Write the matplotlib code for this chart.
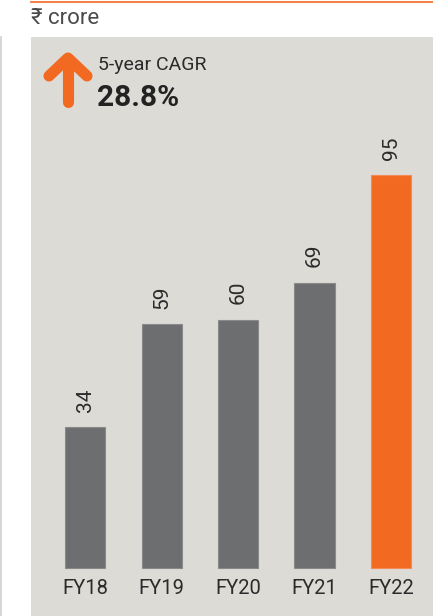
import matplotlib.pyplot as plt
from matplotlib.lines import Line2D

years = ['FY18', 'FY19', 'FY20', 'FY21', 'FY22']
values = [34, 59, 60, 69, 95]
unit = '₹ crore'
cagr_label = '5-year CAGR'
cagr_value = '28.8%'

plt.rcParams['font.family'] = ['Roboto', 'DejaVu Sans']

W, H = 433, 616
fig = plt.figure(figsize=(W / 100, H / 100), dpi=100)
fig.patch.set_facecolor('white')

panel = '#dcdbd6'
grey = '#6d6e70'
orange = '#f26a21'
txt = '#2b2b2b'

# bar panel, laid out so 1 unit ~ 4.14 px and bar centres ~76.5 px apart
ax = fig.add_axes([31 / W, 0, 402 / W, 579 / H])
ax.set_facecolor(panel)
x = list(range(len(years)))
colors = [grey] * (len(years) - 1) + [orange]
edges = ['#8a8a8a'] * (len(years) - 1) + ['#f48a55']
ax.bar(x, values, width=0.523, color=colors, edgecolor=edges, linewidth=0.8)
ax.set_xlim(-0.706, 4.549)
ax.set_ylim(-11.6, 128.35)
for i, v in enumerate(values):
    ax.annotate(str(v), (i, v), xytext=(0, 11), textcoords='offset points',
                rotation=90, ha='center', va='bottom', fontsize=15, color=txt)
    ax.annotate(years[i], (i, 0), xytext=(0, -8), textcoords='offset points',
                ha='center', va='top', fontsize=14.5, color=txt)
ax.set_xticks([])
ax.set_yticks([])
for s in ax.spines.values():
    s.set_visible(False)

# overlay in pixel coordinates for the header bits
ov = fig.add_axes([0, 0, 1, 1], facecolor='none')
ov.set_xlim(0, W)
ov.set_ylim(H, 0)
ov.axis('off')
ov.add_line(Line2D([31, W], [2, 2], color=orange, lw=1.2))
ov.add_line(Line2D([0.5, 0.5], [37, H], color='#cfcfcb', lw=1.2))
ov.text(31, 18, unit, fontsize=16, color='#4a4a4a', va='center', ha='left')

# up arrow
ov.add_line(Line2D([68, 68], [102, 62], color=orange, lw=8, solid_capstyle='round'))
ov.add_line(Line2D([49, 68, 87], [76, 58, 76], color=orange, lw=8,
                   solid_capstyle='round', solid_joinstyle='round'))

ov.text(98, 65, cagr_label, fontsize=14, color=txt, va='center', ha='left')
ov.text(97, 98, cagr_value, fontsize=21.5, color='#222222', va='center', ha='left',
        fontweight='bold')

fig.savefig('out.png', dpi=100, facecolor=fig.get_facecolor())
